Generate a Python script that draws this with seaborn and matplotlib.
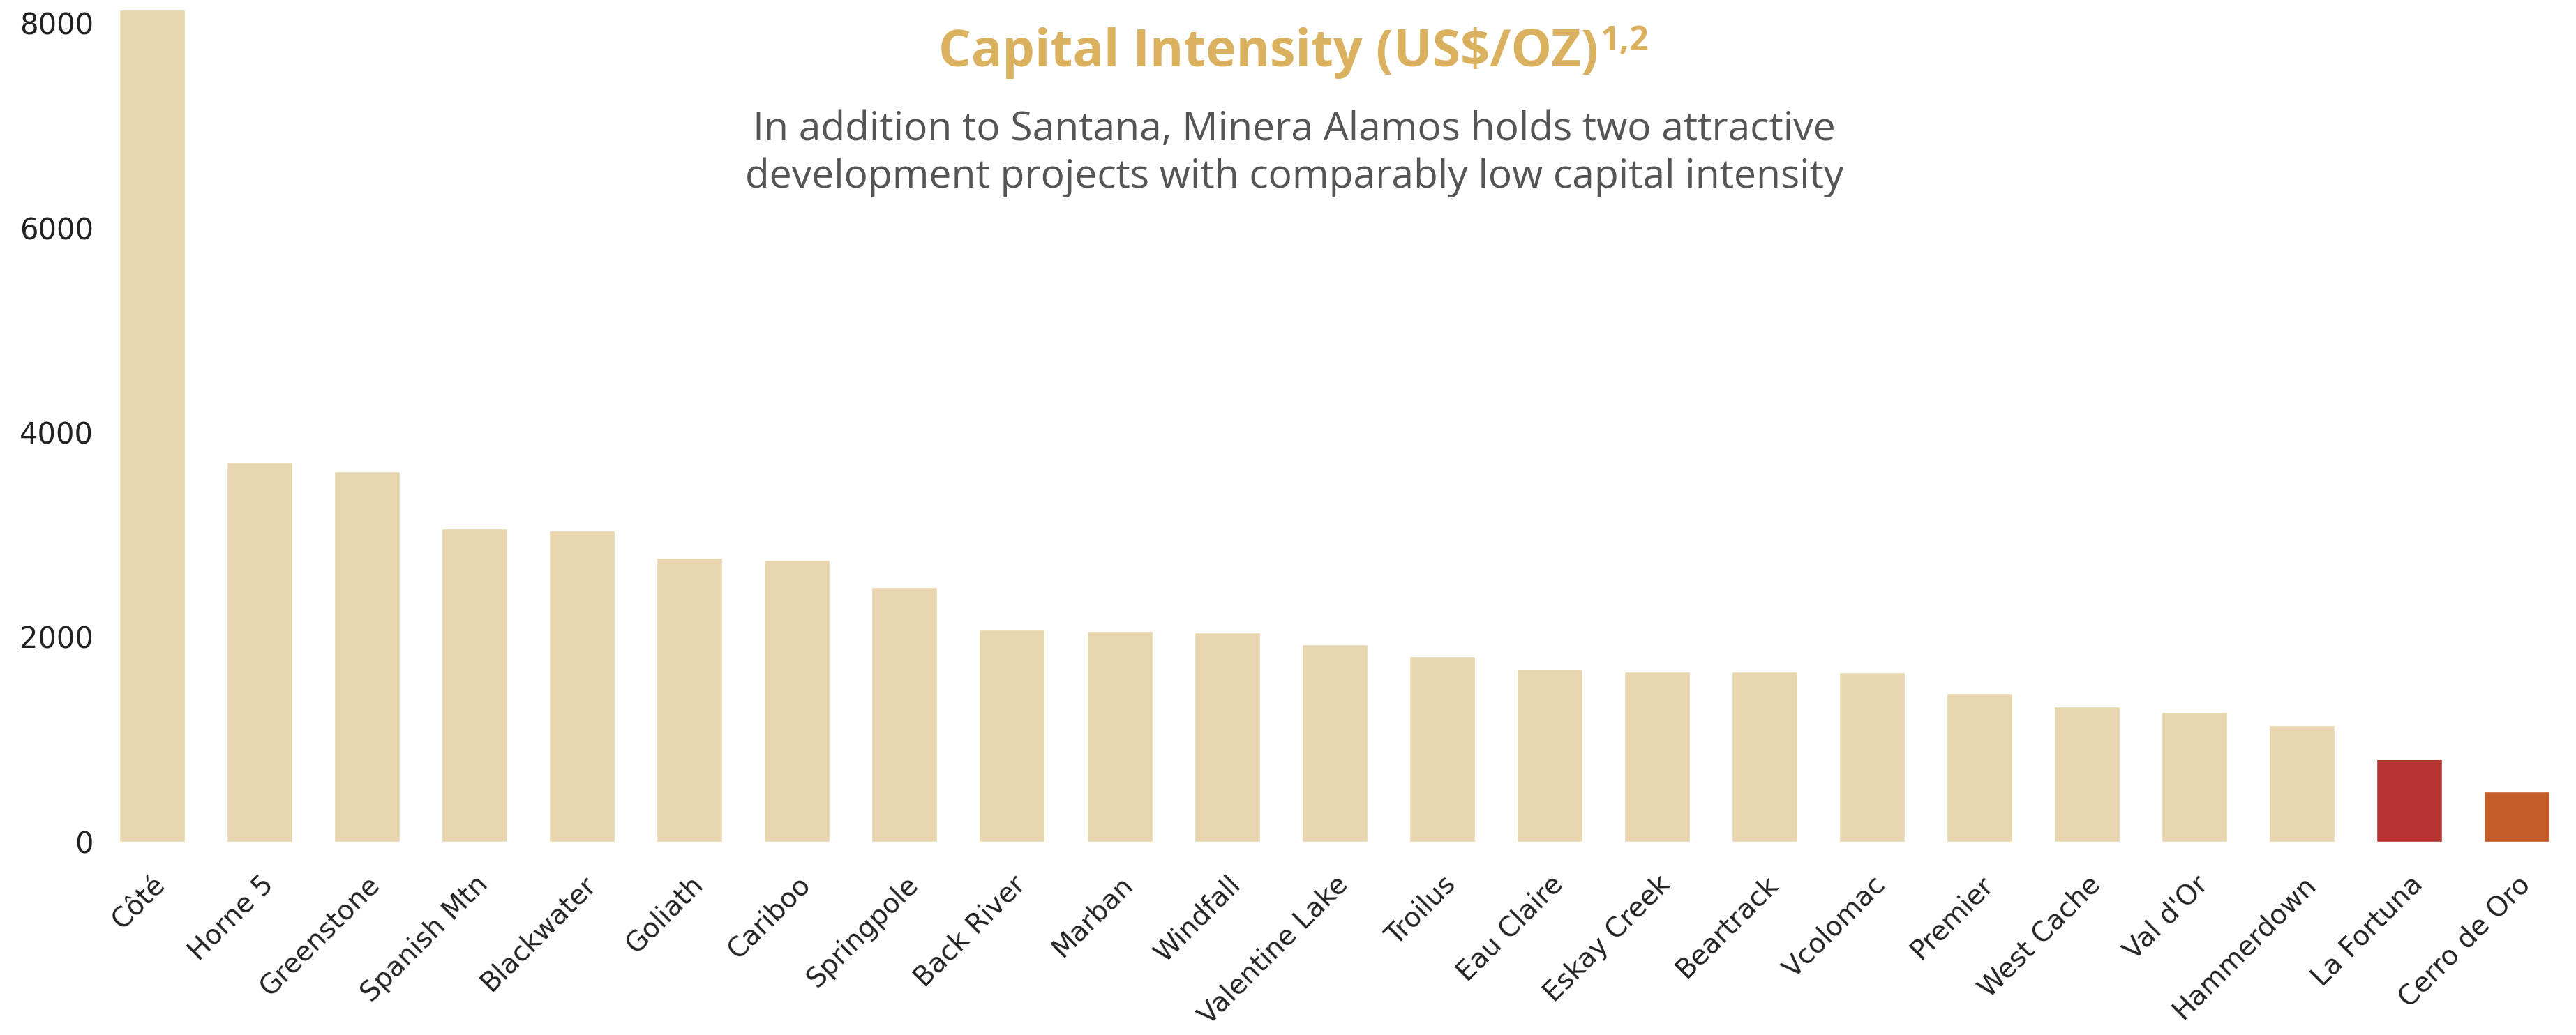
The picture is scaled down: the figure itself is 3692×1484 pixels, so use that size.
import numpy as np
import pandas as pd
import seaborn as sns
import matplotlib.pyplot as plt

sns.set_theme(style="white")
plt.rcParams['font.family'] = ['DejaVu Sans']

# values (US$/oz)
projects = ["Côté", "Horne 5", "Greenstone", "Spanish Mtn", "Blackwater", "Goliath",
            "Cariboo", "Springpole", "Back River", "Marban", "Windfall", "Valentine Lake",
            "Troilus", "Eau Claire", "Eskay Creek", "Beartrack", "Vcolomac", "Premier",
            "West Cache", "Val d'Or", "Hammerdown", "La Fortuna", "Cerro de Oro"]
capital_intensity = [8130, 3705, 3620, 3060, 3040, 2775, 2755, 2490, 2068, 2060, 2042, 1925,
                     1811, 1692, 1663, 1663, 1658, 1448, 1321, 1268, 1141, 810, 490]
highlight = {"La Fortuna": "#B43530", "Cerro de Oro": "#C45C2A"}
y_ticks = [0, 2000, 4000, 6000, 8000]

beige = "#E9D6B0"
palette = {p: highlight.get(p, beige) for p in projects}

df = pd.DataFrame({'project': projects, 'value': capital_intensity})

fig = plt.figure(figsize=(36.92, 14.84), dpi=100)
ax = fig.add_axes([0.0382, 0.1867, 0.9597, 0.8108])

sns.barplot(data=df, x='project', y='value', hue='project', palette=palette,
            legend=False, width=0.61, saturation=1, ax=ax)

ax.set_xlim(-0.5, len(projects) - 0.5)
ax.set_ylim(0, 8200)
ax.set_yticks(y_ticks)
ax.set_yticklabels([str(t) for t in y_ticks])
ax.set_xlabel("")
ax.set_ylabel("")
ax.grid(False)
sns.despine(ax=ax, left=True, bottom=True)

ax.tick_params(axis='y', length=0, pad=5, labelsize=30, labelcolor="#222222")
ax.tick_params(axis='x', length=0, pad=30, labelsize=28, labelcolor="#222222")
plt.setp(ax.get_xticklabels(), rotation=45, ha='right', rotation_mode='anchor')

# title + superscript
title = fig.text(0.3643, 1 - 95 / 1484, "Capital Intensity (US$/OZ)",
                 family=['Open Sans', 'DejaVu Sans'], fontweight='bold',
                 fontsize=53, color="#D9B15F", ha='left', va='baseline')
fig.canvas.draw()
bb = title.get_window_extent()
fig.text((bb.x1 + 2) / fig.bbox.width, 1 - 72 / 1484, "1,2",
         family=['Open Sans', 'DejaVu Sans'], fontweight='bold',
         fontsize=35, color="#D9B15F", ha='left', va='baseline')

fig.text(0.5024, 1 - 201 / 1484, "In addition to Santana, Minera Alamos holds two attractive",
         family=['Open Sans', 'DejaVu Sans'], fontsize=41, color="#555555",
         ha='center', va='baseline')
fig.text(0.5024, 1 - 269 / 1484, "development projects with comparably low capital intensity",
         family=['Open Sans', 'DejaVu Sans'], fontsize=41, color="#555555",
         ha='center', va='baseline')

fig.savefig("out.png", dpi=100, facecolor="white")
